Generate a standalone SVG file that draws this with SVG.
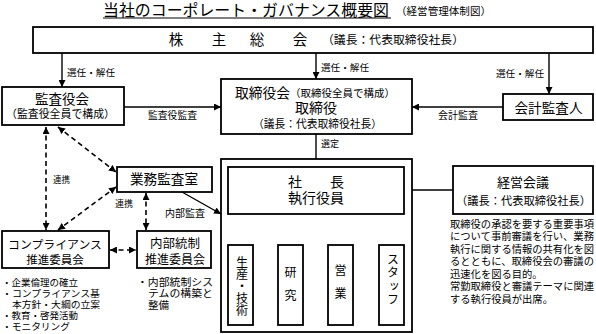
<svg xmlns="http://www.w3.org/2000/svg" width="596" height="334" viewBox="0 0 596 334">
<defs>
<marker id="ah" markerUnits="userSpaceOnUse" markerWidth="8" markerHeight="7" refX="7" refY="3.5" orient="auto-start-reverse"><path d="M0,0 L7,3.5 L0,7 z" fill="#000"/></marker>
<style>
text{font-family:"Liberation Sans","Noto Sans CJK JP","Noto Sans CJK SC",sans-serif;fill:#000;dominant-baseline:central}
.box{fill:#fff;stroke:#000;stroke-width:1.8}
.c{text-anchor:middle}
.ln{fill:none;stroke:#000;stroke-width:1.4}
.ar{fill:none;stroke:#000;stroke-width:1.4;marker-end:url(#ah)}
.da{fill:none;stroke:#000;stroke-width:1.6;stroke-dasharray:5,3.5;marker-end:url(#ah);marker-start:url(#ah)}
.v{writing-mode:vertical-rl;text-anchor:middle}
</style>
</defs>
<rect width="596" height="334" fill="#fff"/>
<g id="title">
<text x="103" y="10" font-size="15.8" textLength="286" lengthAdjust="spacingAndGlyphs">当社のコーポレート・ガバナンス概要図</text>
<line x1="103" y1="18" x2="391" y2="18" stroke="#000" stroke-width="1"/>
<text x="396" y="11" font-size="10.5" textLength="95" lengthAdjust="spacingAndGlyphs">（経営管理体制図）</text>
</g>
<g id="connectors">
<path class="ar" d="M62,53 V87"/>
<path class="ar" d="M316,53 V79"/>
<path class="ar" d="M549,53 V94"/>
<path class="ar" d="M124,107 H221"/>
<path class="ar" d="M503,107 H412"/>
<path class="ar" d="M316,134 V167"/>
<path class="ar" d="M182,192 L221,214"/>
<path class="ln" d="M404,190 H453"/>
<path class="ln" d="M316,214 V231 M240.5,231 H391.5 M240.5,231 V245 M290.5,231 V245 M340.5,231 V245 M391.5,231 V245"/>
<path class="da" d="M46,127 V230"/>
<path class="da" d="M58,127 L116,172"/>
<path class="da" d="M116,187 L58,230"/>
<path class="da" d="M146,193 V230"/>
<path class="da" d="M110,250 H136"/>
<text x="67" y="72" font-size="9.6" textLength="48" lengthAdjust="spacingAndGlyphs">選任・解任</text>
<text x="321" y="67" font-size="9.6" textLength="48" lengthAdjust="spacingAndGlyphs">選任・解任</text>
<text x="496" y="73" font-size="9.6" textLength="48" lengthAdjust="spacingAndGlyphs">選任・解任</text>
<text x="148" y="115" font-size="9.8" textLength="49" lengthAdjust="spacingAndGlyphs">監査役監査</text>
<text x="438" y="115" font-size="10" textLength="40" lengthAdjust="spacingAndGlyphs">会計監査</text>
<text x="321" y="144" font-size="9" textLength="18" lengthAdjust="spacingAndGlyphs">選定</text>
<text x="53" y="180" font-size="8.6" textLength="17" lengthAdjust="spacingAndGlyphs">連携</text>
<text x="115" y="204" font-size="8.6" textLength="18" lengthAdjust="spacingAndGlyphs">連携</text>
<text x="165" y="213" font-size="10" textLength="40" lengthAdjust="spacingAndGlyphs">内部監査</text>
</g>
<g id="shareholders">
<rect class="box" x="33" y="27" width="560" height="26"/>
<text class="c" x="176" y="40" font-size="14.5">株</text>
<text class="c" x="219" y="40" font-size="14.5">主</text>
<text class="c" x="257" y="40" font-size="14.5">総</text>
<text class="c" x="300" y="40" font-size="14.5">会</text>
<text x="322" y="40" font-size="11.8" textLength="142" lengthAdjust="spacingAndGlyphs">（議長：代表取締役社長）</text>
</g>
<g id="audit-board">
<rect class="box" x="2" y="87" width="122" height="38"/>
<text class="c" x="62" y="99" font-size="13.5">監査役会</text>
<text x="6" y="114" font-size="11" textLength="109" lengthAdjust="spacingAndGlyphs">（監査役全員で構成）</text>
</g>
<g id="board">
<rect class="box" x="221" y="79" width="191" height="55"/>
<text x="235" y="93" font-size="14" textLength="55" lengthAdjust="spacingAndGlyphs">取締役会</text>
<text x="290" y="93" font-size="10.5" textLength="105" lengthAdjust="spacingAndGlyphs">（取締役全員で構成）</text>
<text class="c" x="316" y="108" font-size="14">取締役</text>
<text x="253" y="124" font-size="10.8" textLength="129" lengthAdjust="spacingAndGlyphs">（議長：代表取締役社長）</text>
</g>
<g id="accounting-auditor">
<rect class="box" x="503" y="94" width="90" height="26"/>
<text class="c" x="548.5" y="108" font-size="13.6">会計監査人</text>
</g>
<g id="internal-audit">
<rect class="box" x="117" y="167" width="95" height="25"/>
<text class="c" x="164" y="179" font-size="13.6">業務監査室</text>
</g>
<g id="executive">
<rect class="box" x="221" y="159" width="191" height="173"/>
<rect class="box" x="228" y="167" width="176" height="47"/>
<text x="288" y="182" font-size="14">社</text>
<text x="330" y="182" font-size="14">長</text>
<text class="c" x="316" y="198" font-size="14">執行役員</text>
</g>
<g id="dept-production">
<rect class="box" x="228" y="245" width="25" height="80"/>
<text class="v" x="240.5" y="286" font-size="12">生産・技術</text>
</g>
<g id="dept-research">
<rect class="box" x="278" y="245" width="25" height="80"/>
<text class="c" x="290.5" y="273" font-size="12">研</text>
<text class="c" x="290.5" y="296" font-size="12">究</text>
</g>
<g id="dept-sales">
<rect class="box" x="328" y="245" width="25" height="80"/>
<text class="c" x="340.5" y="271" font-size="12">営</text>
<text class="c" x="340.5" y="294" font-size="12">業</text>
</g>
<g id="dept-staff">
<rect class="box" x="379" y="245" width="25" height="80"/>
<text class="v" x="391.5" y="280" font-size="12" letter-spacing="1.2">スタッフ</text>
</g>
<g id="management-meeting">
<rect class="box" x="453" y="166" width="140" height="48"/>
<text class="c" x="523" y="182" font-size="13">経営会議</text>
<text x="456" y="201" font-size="11.3" textLength="135" lengthAdjust="spacingAndGlyphs">（議長：代表取締役社長）</text>
<g font-size="10.3">
<text x="450" y="224" textLength="144" lengthAdjust="spacingAndGlyphs">取締役の承認を要する重要事項</text>
<text x="450" y="236.5" textLength="144" lengthAdjust="spacingAndGlyphs">について事前審議を行い、業務</text>
<text x="450" y="249" textLength="144" lengthAdjust="spacingAndGlyphs">執行に関する情報の共有化を図</text>
<text x="450" y="261.5" textLength="144" lengthAdjust="spacingAndGlyphs">るとともに、取締役会の審議の</text>
<text x="450" y="274">迅速化を図る目的。</text>
<text x="450" y="286.5" textLength="144" lengthAdjust="spacingAndGlyphs">常勤取締役と審議テーマに関連</text>
<text x="450" y="299">する執行役員が出席。</text>
</g>
</g>
<g id="compliance">
<rect class="box" x="2" y="231" width="107" height="37"/>
<text class="c" x="55" y="244" font-size="11.7" textLength="94" lengthAdjust="spacingAndGlyphs">コンプライアンス</text>
<text class="c" x="55" y="260" font-size="11.5">推進委員会</text>
<g font-size="9.6">
<text x="2" y="282" textLength="76" lengthAdjust="spacingAndGlyphs">・企業倫理の確立</text>
<text x="2" y="293" textLength="98" lengthAdjust="spacingAndGlyphs">・コンプライアンス基</text>
<text x="12" y="304" textLength="88" lengthAdjust="spacingAndGlyphs">本方針・大綱の立案</text>
<text x="2" y="315" textLength="76" lengthAdjust="spacingAndGlyphs">・教育・啓発活動</text>
<text x="2" y="326" textLength="68" lengthAdjust="spacingAndGlyphs">・モニタリング</text>
</g>
</g>
<g id="internal-control">
<rect class="box" x="137" y="231" width="74" height="37"/>
<text class="c" x="175" y="244" font-size="12.5">内部統制</text>
<text class="c" x="175" y="260" font-size="12">推進委員会</text>
<g font-size="10">
<text x="137" y="282" textLength="76" lengthAdjust="spacingAndGlyphs">・内部統制シス</text>
<text x="148" y="293.5" textLength="65" lengthAdjust="spacingAndGlyphs">テムの構築と</text>
<text x="148" y="305" textLength="21" lengthAdjust="spacingAndGlyphs">整備</text>
</g>
</g>
</svg>
